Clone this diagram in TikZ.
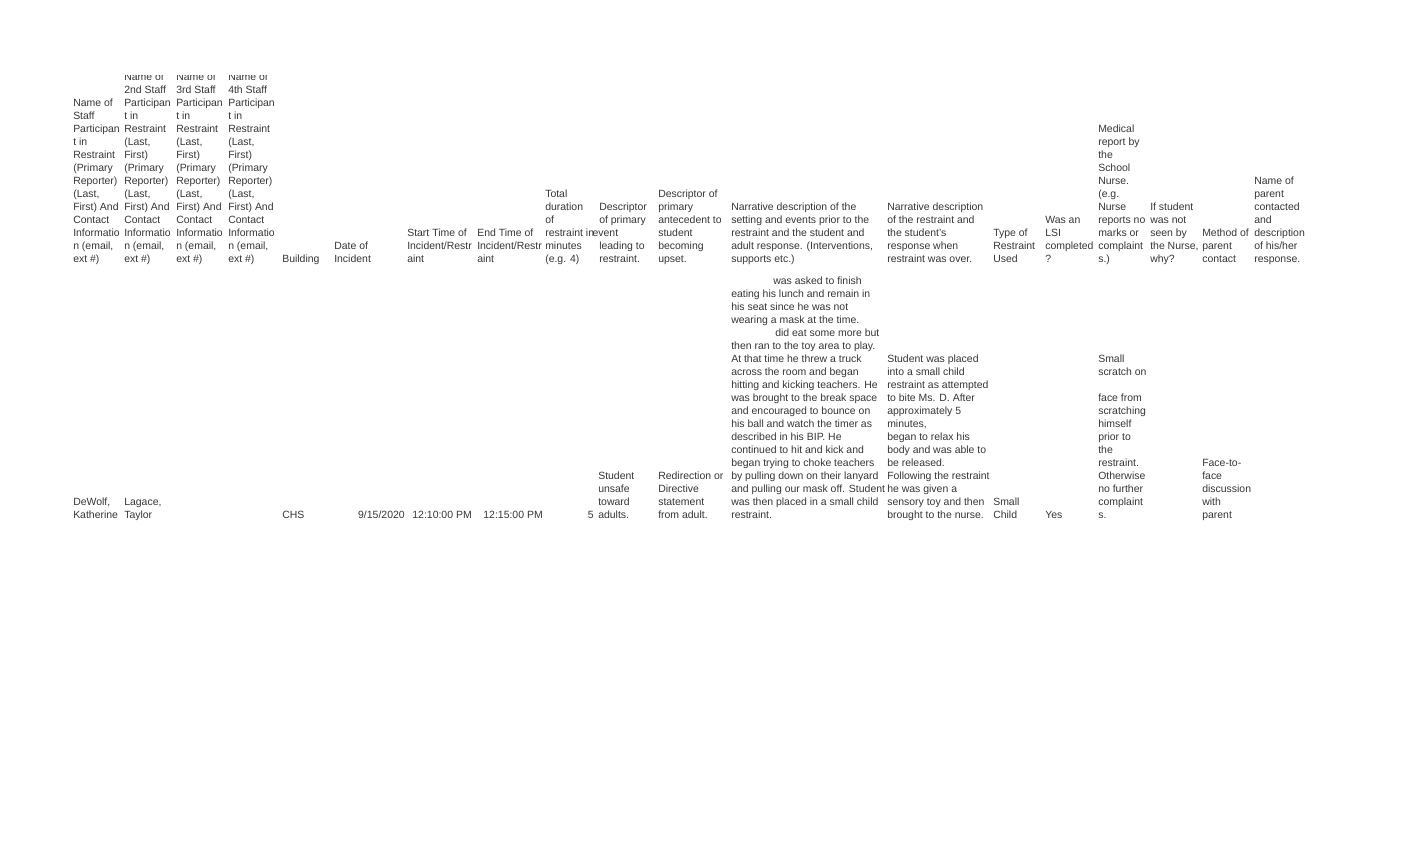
\documentclass[tikz,border=0pt]{standalone}
\usepackage{fontspec}
\setmainfont{Liberation Sans}
\definecolor{txt}{RGB}{55,55,55}
\begin{document}
\begin{tikzpicture}[x=0.75pt,y=-0.75pt,
  cell/.style={anchor=south west,inner sep=0pt,align=left,text=txt,
    font=\fontsize{7.85}{9.75}\selectfont,
    execute at begin node=\strut, execute at end node=\strut},
  rcell/.style={cell,anchor=south east,align=right}]
\useasboundingbox (0,0) rectangle (1415,860);
\fill[white] (0,0) rectangle (1415,860);
\begin{scope}
\clip (0,75.5) rectangle (1415,860);
% header row
\node[cell] (hA) at (73,267) {Name of\\Staff\\Participan\\t in\\Restraint\\(Primary\\Reporter)\\(Last,\\First) And\\Contact\\Informatio\\n (email,\\ext \#)};
\node[cell] (hB) at (124,267) {Name of\\2nd Staff\\Participan\\t in\\Restraint\\(Last,\\First)\\(Primary\\Reporter)\\(Last,\\First) And\\Contact\\Informatio\\n (email,\\ext \#)};
\node[cell] (hC) at (176,267) {Name of\\3rd Staff\\Participan\\t in\\Restraint\\(Last,\\First)\\(Primary\\Reporter)\\(Last,\\First) And\\Contact\\Informatio\\n (email,\\ext \#)};
\node[cell] (hD) at (228,267) {Name of\\4th Staff\\Participan\\t in\\Restraint\\(Last,\\First)\\(Primary\\Reporter)\\(Last,\\First) And\\Contact\\Informatio\\n (email,\\ext \#)};
\end{scope}
\node[cell] (hE) at (282,267) {Building};
\node[cell] (hF) at (334,267) {Date of\\Incident};
\begin{scope}
\clip (400,200) rectangle (474,280);
\node[cell] (hG) at (407,267) {Start Time of\\Incident/Restr\\aint};
\end{scope}
\begin{scope}
\clip (470,200) rectangle (543,280);
\node[cell] (hH) at (477,267) {End Time of\\Incident/Restr\\aint};
\end{scope}
\node[cell] (hI) at (545,267) {Total\\duration\\of\\restraint in\\minutes\\(e.g. 4)};
\node[cell] (hJ) at (599,267) {Descriptor\\of primary\\\hspace*{-5pt}event\\leading to\\restraint.};
\node[cell] (hK) at (658,267) {Descriptor of\\primary\\antecedent to\\student\\becoming\\upset.};
\node[cell] (hL) at (731,267) {Narrative description of the\\setting and events prior to the\\restraint and the student and\\adult response. (Interventions,\\supports etc.)};
\node[cell] (hM) at (887,267) {Narrative description\\of the restraint and\\the student's\\response when\\restraint was over.};
\node[cell] (hN) at (993,267) {Type of\\Restraint\\Used};
\node[cell] (hO) at (1045,267) {Was an\\LSI\\completed\\?};
\node[cell] (hP) at (1098,267) {Medical\\report by\\the\\School\\Nurse.\\(e.g.\\Nurse\\reports no\\marks or\\complaint\\s.)};
\node[cell] (hQ) at (1150,267) {If student\\was not\\seen by\\the Nurse,\\why?};
\node[cell] (hR) at (1202,267) {Method of\\parent\\contact};
\node[cell] (hS) at (1254,267) {Name of\\parent\\contacted\\and\\description\\of his/her\\response.};
% data row
\node[cell] (dA) at (73,523) {DeWolf,\\Katherine};
\node[cell] (dB) at (124,523) {Lagace,\\Taylor};
\node[cell] (dE) at (282,523) {CHS};
\node[rcell] (dF) at (405,523) {9/15/2020};
\node[rcell] (dG) at (472,523) {12:10:00 PM};
\node[rcell] (dH) at (543,523) {12:15:00 PM};
\node[rcell] (dI) at (594,523) {5};
\node[cell] (dJ) at (598,523) {Student\\unsafe\\toward\\adults.};
\node[cell] (dK) at (658,523) {Redirection or\\Directive\\statement\\from adult.};
\node[cell] (dL) at (731,523) {\hspace*{31.5pt}was asked to finish\\eating his lunch and remain in\\his seat since he was not\\wearing a mask at the time.\\\hspace*{33pt}did eat some more but\\then ran to the toy area to play.\\At that time he threw a truck\\across the room and began\\hitting and kicking teachers. He\\was brought to the break space\\and encouraged to bounce on\\his ball and watch the timer as\\described in his BIP. He\\continued to hit and kick and\\began trying to choke teachers\\by pulling down on their lanyard\\and pulling our mask off. Student\\was then placed in a small child\\restraint.};
\node[cell] (dM) at (887,523) {Student was placed\\into a small child\\restraint as attempted\\to bite Ms. D. After\\approximately 5\\minutes,\\began to relax his\\body and was able to\\be released.\\Following the restraint\\he was given a\\sensory toy and then\\brought to the nurse.};
\node[cell] (dN) at (993,523) {Small\\Child};
\node[cell] (dO) at (1045,523) {Yes};
\node[cell] (dP) at (1098,523) {Small\\scratch on\\\\face from\\scratching\\himself\\prior to\\the\\restraint.\\Otherwise\\no further\\complaint\\s.};
\node[cell] (dR) at (1202,523) {Face-to-\\face\\discussion\\with\\parent};
\end{tikzpicture}
\end{document}
